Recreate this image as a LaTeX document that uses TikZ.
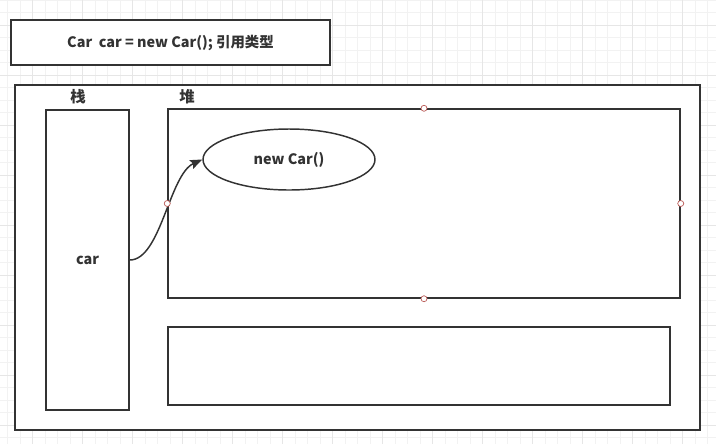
\documentclass[tikz,border=0pt]{standalone}
\usepackage{fontspec}
\setmainfont{Noto Sans CJK SC}
\usepackage{xcolor}
\definecolor{linegray}{RGB}{51,51,51}
\definecolor{gridminor}{RGB}{242,242,242}
\definecolor{gridmajor}{RGB}{230,230,230}
\definecolor{handlered}{RGB}{184,84,80}
\usetikzlibrary{shapes.geometric,arrows.meta,positioning}

\begin{document}
\begin{tikzpicture}[x=0.75pt, y=-0.75pt,
    box/.style={rectangle, draw=linegray, line width=1.1pt, fill=white,
                inner sep=0pt, font=\bfseries\fontsize{10.8}{13}\selectfont,
                text=linegray},
    oval/.style={ellipse, draw=linegray, line width=1.1pt, fill=white,
                 inner sep=0pt, font=\bfseries\fontsize{10.8}{13}\selectfont,
                 text=linegray},
    lbl/.style={font=\bfseries\fontsize{11.5}{13}\selectfont, text=linegray},
    handle/.style={circle, draw=handlered, fill=white, line width=0.5pt,
                   minimum size=4.5pt, inner sep=0pt},
    arr/.style={-{Stealth[length=9pt, width=7pt, inset=1.5pt]},
                line width=1.1pt, linegray}
  ]
    \useasboundingbox (0,0) rectangle (716,444);
    % editor grid
    \foreach \gx in {7.5,20,...,716}
      \draw[gridminor, line width=0.5pt] (\gx,0) -- (\gx,444);
    \foreach \gy in {0,12.5,...,444}
      \draw[gridminor, line width=0.5pt] (0,\gy) -- (716,\gy);
    \foreach \gx in {32.5,82.5,...,716}
      \draw[gridmajor, line width=0.5pt] (\gx,0) -- (\gx,444);
    \foreach \gy in {25,75,...,444}
      \draw[gridmajor, line width=0.5pt] (0,\gy) -- (716,\gy);

    \node[box, minimum width=239.25pt, minimum height=33.75pt] (title) at (170.5,42.5)
      {Car\ \ car = new Car(); 引用类型};
    \node[box, minimum width=513.75pt, minimum height=258.75pt] (memory) at (357.5,257.5) {};
    \node[lbl] (stacklbl) at (78,97) {栈};
    \node[lbl] (heaplbl) at (187,97) {堆};
    \node[box, minimum width=62.25pt, minimum height=225pt] (stack) at (87.5,260) {car};
    \node[box, minimum width=384pt, minimum height=141.75pt] (heap) at (424,203.5) {};
    \node[box, minimum width=376.5pt, minimum height=58.5pt] (heap2) at (419,366) {};
    \node[oval, minimum width=129pt, minimum height=45.75pt] (obj) at (289,159.5) {new Car()};

    \draw[arr] (stack.east) .. controls +(31,0) and +(-33,15) .. (obj.west);

    \foreach \a in {north,west,east,south}
      \node[handle] (h-\a) at (heap.\a) {};
  \end{tikzpicture}
\end{document}
